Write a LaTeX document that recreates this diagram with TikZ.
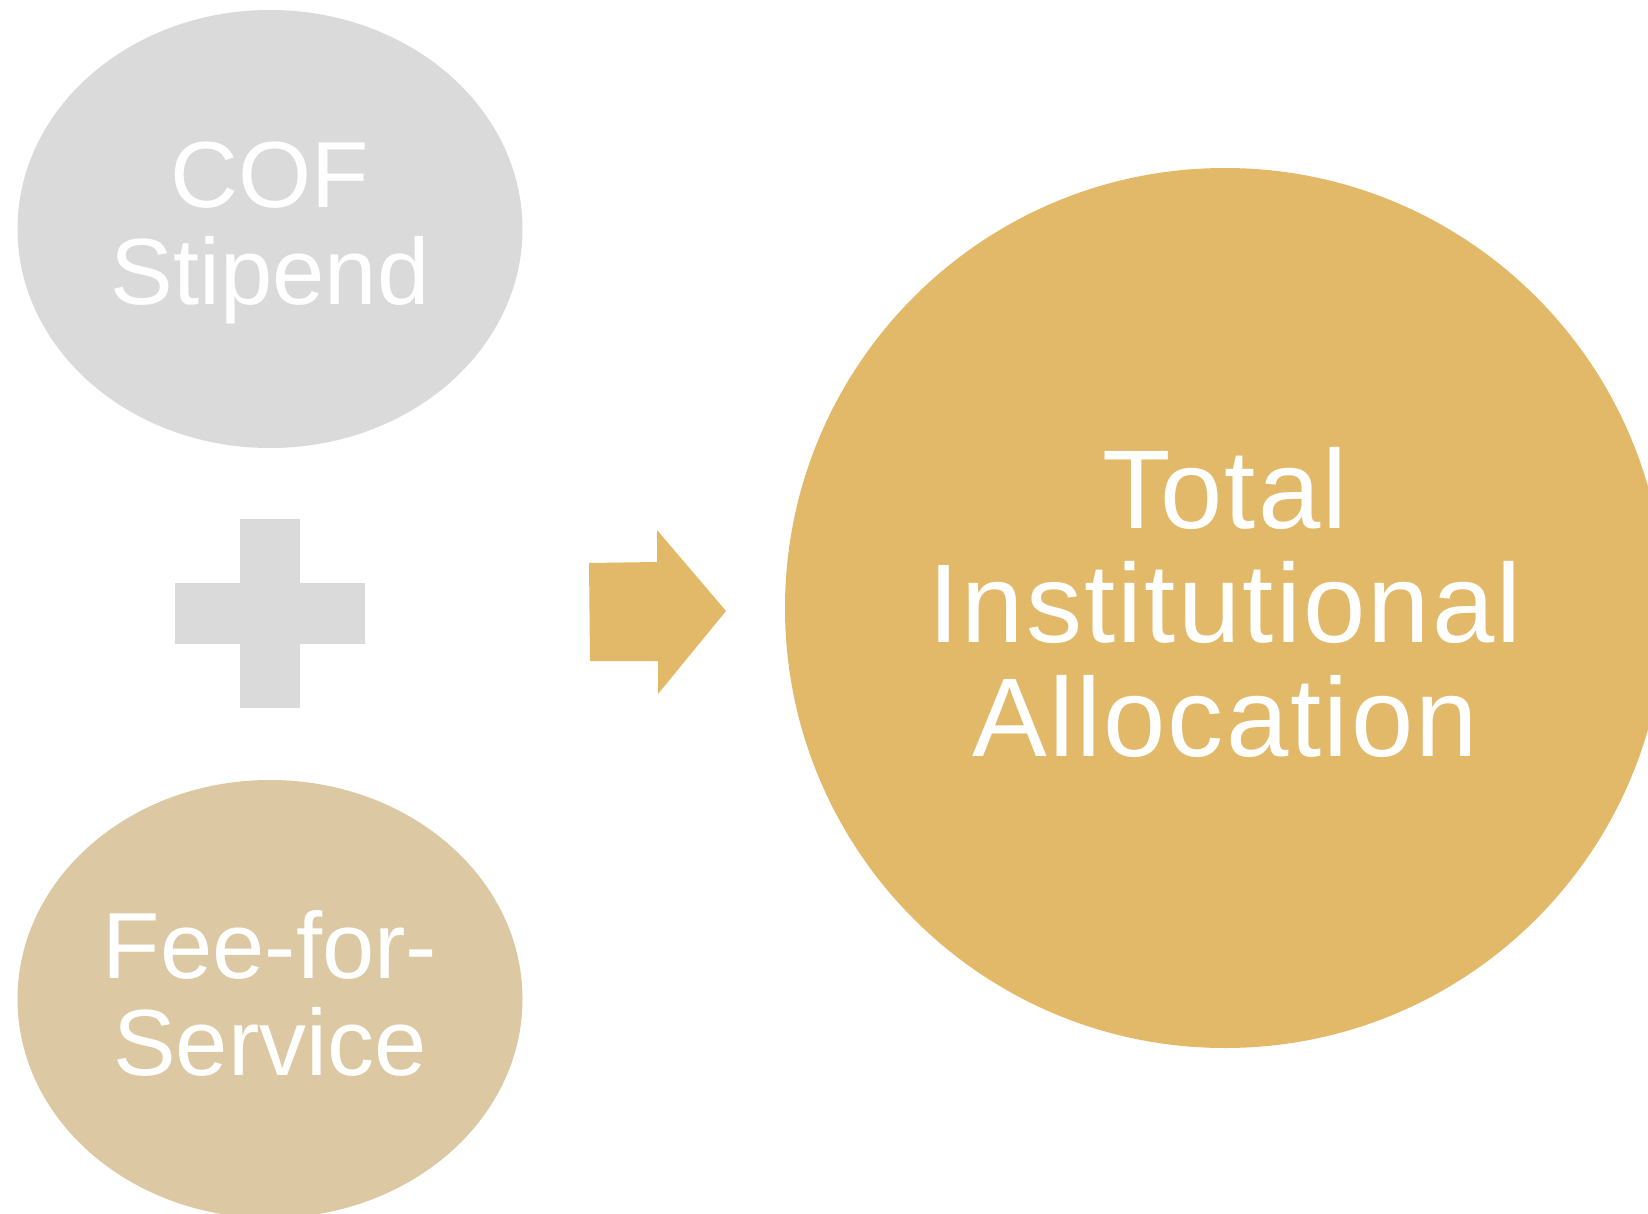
\documentclass[tikz,border=0pt]{standalone}
\usepackage{fontspec}
\setmainfont{Liberation Sans}
\newfontfamily\spacedfont[LetterSpace=2]{Liberation Sans}
\usetikzlibrary{shapes.geometric}
\definecolor{cofgray}{RGB}{218,218,218}
\definecolor{feetan}{RGB}{220,200,162}
\definecolor{totalgold}{RGB}{226,185,104}
\begin{document}
\begin{tikzpicture}[
        x=0.5pt, y=-0.5pt,
        part/.style={ellipse, inner sep=0pt, minimum width=252.5pt, minimum height=219pt,
            text=white, align=center, text depth=5.8pt, font=\fontsize{47}{48.5}\selectfont},
        total/.style={circle, inner sep=0pt, minimum size=440pt, fill=totalgold,
            text=white, align=center, text depth=5.8pt, font=\spacedfont\fontsize{56}{57}\selectfont}
    ]
        \clip (0,0) rectangle (1648,1214);
        \useasboundingbox (0,0) rectangle (1648,1214);
        \node[part, fill=cofgray] (cof) at (270,229) {COF\\Stipend};
        \node[part, fill=feetan] (fee) at (270,999) {Fee-for-\\Service};
        \node[total] (tia) at (1225,608) {Total\\Institutional\\Allocation};
        \fill[cofgray] (240,519) rectangle (300,708);
        \fill[cofgray] (175,583) rectangle (365,644);
        \fill[totalgold] (589,563) -- (657,562) -- (657,530) -- (726,611)
            -- (658,694) -- (658,661) -- (590,661) -- cycle;
    \end{tikzpicture}
\end{document}
